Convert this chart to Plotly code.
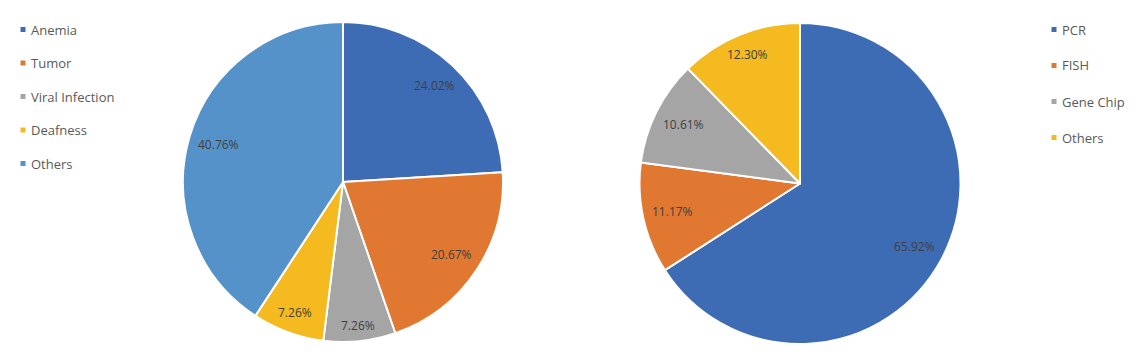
import math
import plotly.graph_objects as go

W, H = 1141, 352

left_labels = ["Anemia", "Tumor", "Viral Infection", "Deafness", "Others"]
left_values = [24.02, 20.67, 7.26, 7.26, 40.76]
left_colors = ["#3E6CB4", "#E07832", "#A5A5A5", "#F4BA20", "#5592C9"]

right_labels = ["PCR", "FISH", "Gene Chip", "Others"]
right_values = [65.92, 11.17, 10.61, 12.30]
right_colors = ["#3E6CB4", "#E07832", "#A5A5A5", "#F4BA20"]

FONT = "Open Sans, Roboto, sans-serif"
TEXT_COLOR = "#404040"

fig = go.Figure()
shapes = []
annotations = []


def add_pie(labels, values, colors, cx, cy, r):
    fig.add_trace(go.Pie(
        labels=labels,
        values=values,
        sort=False,
        direction="clockwise",
        rotation=0,
        marker=dict(colors=colors, line=dict(color="white", width=2)),
        textinfo="none",
        hoverinfo="label+value",
        showlegend=False,
        domain=dict(x=[(cx - r) / W, (cx + r) / W],
                    y=[(H - cy - r) / H, (H - cy + r) / H]),
    ))
    # data labels placed near the outer edge along each slice bisector (like "inside end")
    total = sum(values)
    cum = 0.0
    hw, hh = 22.0, 6.5
    for v in values:
        a = math.radians((cum + v / 2) / total * 360.0)
        cum += v
        s, c = math.sin(a), math.cos(a)
        d = 0.955 * r - (hw * abs(s) + hh * abs(c))
        px = cx + d * s
        py = cy - d * c
        annotations.append(dict(text=f"{v:.2f}%", xref="paper", yref="paper",
                                x=px / W, y=(H - py) / H,
                                xanchor="center", yanchor="middle", showarrow=False,
                                font=dict(family=FONT, size=12, color=TEXT_COLOR)))


add_pie(left_labels, left_values, left_colors, 343, 182, 160)
add_pie(right_labels, right_values, right_colors, 800, 183.5, 160.5)


def add_legend(labels, colors, x_marker, x_text, y0, dy):
    for i, (lab, col) in enumerate(zip(labels, colors)):
        y = y0 + i * dy
        shapes.append(dict(type="rect", xref="paper", yref="paper",
                           x0=(x_marker - 2.5) / W, x1=(x_marker + 2.5) / W,
                           y0=(H - y - 2.5) / H, y1=(H - y + 2.5) / H,
                           fillcolor=col, line=dict(width=0)))
        annotations.append(dict(text=lab, xref="paper", yref="paper",
                                x=x_text / W, y=(H - y) / H,
                                xanchor="left", yanchor="middle", showarrow=False,
                                font=dict(family=FONT, size=13, color="#595959")))


add_legend(left_labels, left_colors, 23, 29, 29.5, 33.5)
add_legend(right_labels, right_colors, 1054, 1060, 29.5, 36)

fig.update_layout(
    width=W, height=H,
    margin=dict(l=0, r=0, t=0, b=0),
    paper_bgcolor="white", plot_bgcolor="white",
    shapes=shapes, annotations=annotations,
)

fig.write_html("out.html")
